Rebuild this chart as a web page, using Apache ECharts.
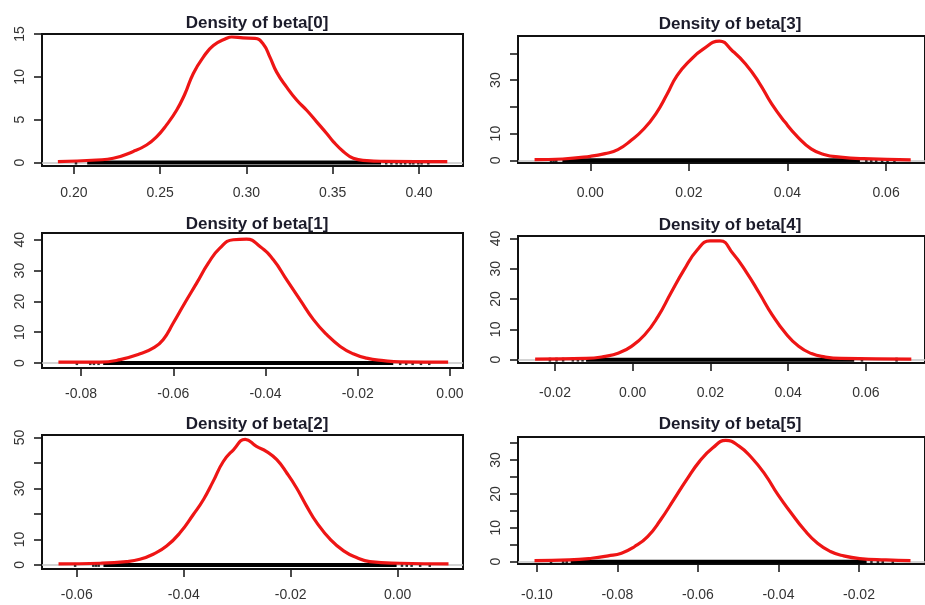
<!DOCTYPE html>
<html>
<head>
<meta charset="utf-8">
<title>Density of beta</title>
<script src="https://cdn.jsdelivr.net/npm/echarts@6.0.0/dist/echarts.min.js"></script>
<style>
  html, body { margin: 0; padding: 0; background: #fff; }
  #chart { width: 925px; height: 605px; }
</style>
</head>
<body>
<div id="chart"></div>
<script>
// panels in reading order: left column beta[0..2], right column beta[3..5]
const titles = ['Density of beta[0]', 'Density of beta[3]', 'Density of beta[1]',
                'Density of beta[4]', 'Density of beta[2]', 'Density of beta[5]'];

// density curves (x = parameter value, y = density)
const b0X = [0.1907, 0.2131, 0.2228, 0.2344, 0.2421, 0.2479, 0.2537, 0.2595, 0.2643, 0.2692, 0.2750, 0.2808, 0.2885, 0.2914, 0.2980, 0.3049, 0.3098, 0.3136, 0.3175, 0.3233, 0.3291, 0.3349, 0.3407, 0.3465, 0.3503, 0.3561, 0.3619, 0.3697, 0.3800, 0.4164];
const b0Y = [0.1, 0.3, 0.5, 1.3, 2.05, 3.0, 4.4, 6.1, 8.0, 10.4, 12.3, 13.65, 14.5, 14.65, 14.55, 14.5, 13.8, 12.3, 10.55, 8.8, 7.3, 6.1, 4.75, 3.4, 2.45, 1.3, 0.5, 0.23, 0.15, 0.1];

const b3X = [-0.0113, -0.0056, 0.0, 0.0030, 0.0056, 0.0083, 0.0109, 0.0133, 0.0156, 0.0176, 0.0202, 0.0229, 0.0262, 0.0288, 0.0315, 0.0342, 0.0368, 0.0395, 0.0421, 0.0448, 0.0474, 0.0507, 0.0554, 0.0650];
const b3Y = [0.25, 0.5, 1.5, 2.5, 4.0, 7.5, 11.8, 17.4, 24.8, 31.7, 37.3, 41.6, 44.6, 41, 36, 29.2, 21.1, 14.3, 8.7, 4.3, 2.2, 1.2, 0.6, 0.2];

const b1X = [-0.0849, -0.0759, -0.0715, -0.0672, -0.0643, -0.0622, -0.0600, -0.0575, -0.0549, -0.0524, -0.0499, -0.0470, -0.0441, -0.0412, -0.0383, -0.0354, -0.0325, -0.0296, -0.0267, -0.0238, -0.0210, -0.0181, -0.0144, -0.0108, -0.0004];
const b1Y = [0.3, 0.3, 1.1, 3.0, 4.9, 7.6, 13, 19.5, 26, 32.4, 37.3, 40, 40.2, 37.8, 33.5, 27, 20.5, 14.1, 9.2, 5.4, 3.0, 1.6, 0.8, 0.4, 0.3];

const b4X = [-0.0251, -0.0120, -0.0070, -0.0036, -0.0003, 0.0031, 0.0065, 0.0098, 0.0132, 0.0166, 0.0199, 0.0225, 0.0258, 0.0292, 0.0326, 0.0359, 0.0393, 0.0427, 0.0460, 0.0494, 0.0536, 0.0717];
const b4Y = [0.2, 0.4, 1.1, 2.2, 4.4, 8.2, 14.2, 21.9, 29.6, 36.2, 39.2, 39.2, 35, 29, 21.9, 14.8, 8.8, 4.4, 2.0, 0.9, 0.4, 0.2];

const b2X = [-0.0634, -0.0556, -0.0507, -0.0482, -0.0457, -0.0432, -0.0407, -0.0382, -0.0363, -0.0345, -0.0326, -0.0307, -0.0285, -0.0264, -0.0245, -0.0226, -0.0207, -0.0189, -0.0170, -0.0151, -0.0126, -0.0101, -0.0077, -0.0052, 0.0004, 0.0095];
const b2Y = [0.4, 0.65, 1.3, 2.2, 4.2, 7.4, 12.6, 19.8, 25.7, 32.8, 40.6, 45.2, 49.3, 46.5, 44.5, 41.3, 36, 30.2, 23, 16.5, 10, 5.5, 2.9, 1.3, 0.65, 0.4];

const b5X = [-0.1006, -0.0920, -0.0864, -0.0823, -0.0790, -0.0758, -0.0725, -0.0693, -0.0660, -0.0628, -0.0596, -0.0563, -0.0531, -0.0498, -0.0466, -0.0433, -0.0401, -0.0368, -0.0336, -0.0303, -0.0271, -0.0238, -0.0198, -0.0133, -0.0072];
const b5Y = [0.3, 0.5, 1.0, 1.7, 2.5, 4.4, 7.4, 12.3, 18.3, 24.2, 29.6, 33.6, 35.8, 34.1, 30.6, 25.7, 19.7, 14.3, 9.4, 5.4, 3.0, 1.7, 0.9, 0.5, 0.3];

// rug of observations: dense band [from, to] and sparse single draws
const rugBands = [[0.2077, 0.3780], [-0.00565, 0.0547], [-0.0752, -0.0123], [-0.0120, 0.0570], [-0.0550, -0.0002], [-0.0916, -0.0181]];
const rugDots = [
  [0.2012, 0.3810, 0.3840, 0.3870, 0.3895, 0.3920, 0.3948, 0.3967, 0.3996, 0.4015, 0.4054],
  [-0.00796, -0.00743, -0.0069, 0.0560, 0.0570, 0.0580, 0.0592, 0.0603, 0.0617],
  [-0.0809, -0.0780, -0.0772, -0.0762, -0.0108, -0.0095, -0.0081, -0.0063, -0.0045],
  [-0.0213, -0.0196, -0.0179, -0.0154, -0.0141, -0.0129, 0.0590, 0.0679],
  [-0.0603, -0.0569, -0.0564, -0.0559, 0.0008, 0.0017, 0.0026, 0.0042, 0.0060],
  [-0.0965, -0.0935, -0.0926, -0.0169, -0.0153, -0.0141, -0.0116]
];

// tick positions and which of them carry a label
const xTicks = [
  [0.20, 0.25, 0.30, 0.35, 0.40],
  [0.00, 0.02, 0.04, 0.06],
  [-0.08, -0.06, -0.04, -0.02, 0.00],
  [-0.02, 0.00, 0.02, 0.04, 0.06],
  [-0.06, -0.04, -0.02, 0.00],
  [-0.10, -0.08, -0.06, -0.04, -0.02]
];
const yTicks = [[0, 5, 10, 15], [0, 10, 20, 30, 40], [0, 10, 20, 30, 40], [0, 10, 20, 30, 40], [0, 10, 20, 30, 40, 50], [0, 5, 10, 15, 20, 25, 30, 35]];
const yLabels = [[0, 5, 10, 15], [0, 10, 30], [0, 10, 20, 30, 40], [0, 10, 20, 30, 40], [0, 10, 30, 50], [0, 10, 20, 30]];

const curvesX = [b0X, b3X, b1X, b4X, b2X, b5X];
const curvesY = [b0Y, b3Y, b1Y, b4Y, b2Y, b5Y];

// plot frames (pixels) and axis ranges of each panel
const panels = [
  { left: 42,  top: 34,  width: 421, height: 132, xMin: 0.1815,  xMax: 0.4255,  yMin: -0.4, yMax: 15.0, xMargin: 20, titleX: 252, titleY: 10 },
  { left: 518, top: 36,  width: 415, height: 127, xMin: -0.01466, xMax: 0.0679, yMin: -1.0, yMax: 46.5, xMargin: 23, titleX: 725, titleY: 11 },
  { left: 42,  top: 233, width: 421, height: 135, xMin: -0.08846, xMax: 0.00282, yMin: -1.6, yMax: 42.2, xMargin: 19, titleX: 252, titleY: 211 },
  { left: 518, top: 236, width: 415, height: 127, xMin: -0.02951, xMax: 0.07522, yMin: -1.1, yMax: 40.8, xMargin: 23, titleX: 725, titleY: 212 },
  { left: 42,  top: 435, width: 421, height: 134, xMin: -0.06649, xMax: 0.01221, yMin: -1.6, yMax: 51.0, xMargin: 19, titleX: 252, titleY: 411 },
  { left: 518, top: 437, width: 415, height: 127, xMin: -0.1047, xMax: -0.0036,  yMin: -0.7, yMax: 36.8, xMargin: 24, titleX: 725, titleY: 411 }
];

const font = 'Liberation Sans, Arial, sans-serif';
const grid = [], xAxis = [], yAxis = [], series = [], title = [];

panels.forEach((p, i) => {
  grid.push({
    left: p.left, top: p.top, width: p.width, height: p.height,
    show: true, borderColor: '#111', borderWidth: 2, backgroundColor: 'transparent'
  });
  title.push({
    text: titles[i], left: p.titleX, top: p.titleY, textAlign: 'center',
    textStyle: { fontFamily: font, fontSize: 17, fontWeight: 'bold', color: '#1b1b2a' }
  });
  xAxis.push({
    gridIndex: i, type: 'value', min: p.xMin, max: p.xMax,
    axisLine: { show: false, onZero: false },
    splitLine: { show: false },
    axisTick: { show: true, length: 8, lineStyle: { color: '#111', width: 1.5 }, customValues: xTicks[i] },
    axisLabel: {
      customValues: xTicks[i], margin: p.xMargin, fontFamily: font, fontSize: 14, color: '#333',
      formatter: v => v.toFixed(2)
    }
  });
  yAxis.push({
    gridIndex: i, type: 'value', min: p.yMin, max: p.yMax,
    axisLine: { show: false, onZero: false },
    splitLine: { show: false },
    axisTick: { show: true, length: 8, lineStyle: { color: '#111', width: 1.5 }, customValues: yTicks[i] },
    axisLabel: { customValues: yLabels[i], rotate: 90, margin: 15, fontFamily: font, fontSize: 14, color: '#333' }
  });

  // rug band, with the grey zero line underneath it
  series.push({
    type: 'line', xAxisIndex: i, yAxisIndex: i, z: 2,
    data: [[rugBands[i][0], 0], [rugBands[i][1], 0]],
    showSymbol: false, lineStyle: { color: '#000', width: 4 },
    markLine: {
      silent: true, z: 1, symbol: ['none', 'none'], label: { show: false },
      lineStyle: { color: '#c4c4c4', width: 1.5, type: 'solid' },
      data: [{ yAxis: 0 }]
    }
  });
  series.push({
    type: 'scatter', xAxisIndex: i, yAxisIndex: i, z: 2,
    data: rugDots[i].map(v => [v, 0]),
    symbol: 'rect', symbolSize: [2.5, 4], itemStyle: { color: '#000' }
  });
  // density curve
  series.push({
    type: 'line', xAxisIndex: i, yAxisIndex: i, z: 3,
    data: curvesX[i].map((x, k) => [x, curvesY[i][k]]),
    smooth: 0.5, showSymbol: false,
    lineStyle: { color: '#ee1515', width: 3.2 }
  });
});

const chart = echarts.init(document.getElementById('chart'));
chart.setOption({
  backgroundColor: '#fff',
  animation: false,
  title, grid, xAxis, yAxis, series
});
</script>
</body>
</html>
